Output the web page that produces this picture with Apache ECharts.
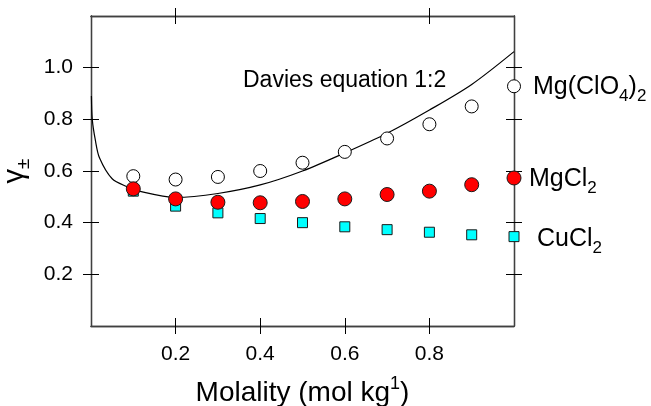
<!DOCTYPE html>
<html>
<head>
<meta charset="utf-8">
<script src="https://cdn.jsdelivr.net/npm/echarts@6/dist/echarts.min.js"></script>
<style>
	html, body { margin: 0; padding: 0; background: #fff; }
	#chart { width: 651px; height: 406px; }
</style>
</head>
<body>
<div id="chart"></div>
<script>
// molality values (mol/kg) for the measured points
var molality = [0.1, 0.2, 0.3, 0.4, 0.5, 0.6, 0.7, 0.8, 0.9, 1.0];

// mean activity coefficients
var mgClO4 = [0.580, 0.567, 0.577, 0.600, 0.632, 0.674, 0.726, 0.781, 0.850, 0.928];
var mgCl2 = [0.531, 0.492, 0.479, 0.477, 0.482, 0.492, 0.509, 0.522, 0.547, 0.573];
var cuCl2 = [0.522, 0.464, 0.438, 0.416, 0.400, 0.384, 0.373, 0.363, 0.353, 0.346];

// Davies equation 1:2 curve
var daviesM = [0.001, 0.003, 0.01, 0.02, 0.05, 0.09, 0.1, 0.2, 0.3, 0.4, 0.5, 0.6, 0.7, 0.8, 0.9, 1.0];
var daviesG = [0.890, 0.800, 0.722, 0.651, 0.570, 0.535, 0.527, 0.498, 0.513, 0.546, 0.600, 0.670, 0.746, 0.836, 0.935, 1.062];

var xTicks = [0.2, 0.4, 0.6, 0.8];
var xTopTicks = [0.2, 0.8];
var yTicks = [0.2, 0.4, 0.6, 0.8, 1.0];

var FONT = "Liberation Sans";
var voChart = null;

function pairs(xs, ys) {
	return xs.map(function(x, i){ return [x, ys[i]]; });
}

function fmt1(v) {
	return v.toFixed(1);
}

/**
 * x axis, ticks either outside or inside
 */
function makeX(gridIndex, position, ticks, inside, withLabel) {
	return {
		type: 'value', gridIndex: gridIndex, position: position,
		min: 0, max: 1, interval: 0.2,
		splitLine: { show: false },
		axisLine: { show: true, onZero: false, lineStyle: { color: '#404040', width: 1.3 } },
		axisTick: { show: true, inside: inside, length: 8, customValues: ticks,
			lineStyle: { color: '#000', width: 1 } },
		axisLabel: { show: withLabel, customValues: ticks, formatter: fmt1, margin: 18,
			color: '#000', fontFamily: FONT, fontSize: 21 }
	};
}

function makeY(gridIndex, position, inside, withLabel) {
	return {
		type: 'value', gridIndex: gridIndex, position: position,
		min: 0, max: 1.2, interval: 0.2,
		splitLine: { show: false },
		axisLine: { show: true, onZero: false, lineStyle: { color: '#404040', width: 1.3 } },
		axisTick: { show: true, inside: inside, length: 8, customValues: yTicks,
			lineStyle: { color: '#000', width: 1 } },
		axisLabel: { show: withLabel, customValues: yTicks, formatter: fmt1, margin: 18,
			color: '#000', fontFamily: FONT, fontSize: 21 }
	};
}

function drawChart() {
	voChart = echarts.init(document.getElementById('chart'), null, { renderer: 'canvas' });

	var gridBox = { left: 91, top: 16, right: 137, bottom: 80, containLabel: false, outerBoundsMode: 'none' };

	var xBottom = makeX(0, 'bottom', xTicks, false, true);
	xBottom.name = '{t|Molality (mol kg}{s|1}{t|)}';
	xBottom.nameLocation = 'middle';
	xBottom.nameGap = 49;
	xBottom.nameTextStyle = {
		rich: {
			t: { fontFamily: FONT, fontSize: 28, color: '#000', lineHeight: 32, verticalAlign: 'bottom' },
			s: { fontFamily: FONT, fontSize: 18, color: '#000', lineHeight: 32, verticalAlign: 'top' }
		}
	};

	var yLeft = makeY(0, 'left', false, true);
	yLeft.name = '{g|γ}{s|±}';
	yLeft.nameLocation = 'middle';
	yLeft.nameRotate = 90;
	yLeft.nameGap = 52;
	yLeft.nameTextStyle = {
		rich: {
			g: { fontFamily: FONT, fontSize: 29, color: '#000', lineHeight: 32, verticalAlign: 'top' },
			s: { fontFamily: FONT, fontSize: 19, color: '#000', lineHeight: 32, verticalAlign: 'bottom' }
		}
	};

	var subRich = {
		a: { fontFamily: FONT, fontSize: 25, fill: '#000', lineHeight: 30, verticalAlign: 'top' },
		s: { fontFamily: FONT, fontSize: 17, fill: '#000', lineHeight: 30, verticalAlign: 'bottom' }
	};

	var voOption = {
		animation: false,
		backgroundColor: '#fff',
		grid: [gridBox, gridBox],
		xAxis: [
			xBottom,
			makeX(0, 'top', xTopTicks, false, false),
			makeX(1, 'bottom', xTicks, true, false),
			makeX(1, 'top', xTopTicks, true, false)
		],
		yAxis: [
			yLeft,
			makeY(0, 'right', false, false),
			makeY(1, 'left', true, false),
			makeY(1, 'right', true, false)
		],
		graphic: [
			{ type: 'text', left: 243, top: 69, silent: true,
				style: { text: 'Davies equation 1:2', fontFamily: FONT, fontSize: 23, fill: '#000' } },
			{ type: 'text', left: 533, top: 75, silent: true,
				style: { text: '{a|Mg(ClO}{s|4}{a|)}{s|2}', rich: subRich } },
			{ type: 'text', left: 529, top: 167, silent: true,
				style: { text: '{a|MgCl}{s|2}', rich: subRich } },
			{ type: 'text', left: 537, top: 227, silent: true,
				style: { text: '{a|CuCl}{s|2}', rich: subRich } }
		],
		series: [
			{
				name: 'Davies', type: 'line', xAxisIndex: 0, yAxisIndex: 0,
				data: pairs(daviesM, daviesG), smooth: 0.3, showSymbol: false, symbol: 'none',
				lineStyle: { color: '#000', width: 1.2 }, z: 2
			},
			{
				name: 'CuCl2', type: 'scatter', xAxisIndex: 0, yAxisIndex: 0,
				data: pairs(molality, cuCl2), symbol: 'rect', symbolSize: 10,
				itemStyle: { color: '#00ffff', borderColor: '#1a1a1a', borderWidth: 1, opacity: 1 }, z: 3
			},
			{
				name: 'Mg(ClO4)2', type: 'scatter', xAxisIndex: 0, yAxisIndex: 0,
				data: pairs(molality, mgClO4), symbol: 'circle', symbolSize: 13,
				itemStyle: { color: '#fff', borderColor: '#000', borderWidth: 1, opacity: 1 }, z: 3
			},
			{
				name: 'MgCl2', type: 'scatter', xAxisIndex: 0, yAxisIndex: 0,
				data: pairs(molality, mgCl2), symbol: 'circle', symbolSize: 14,
				itemStyle: { color: '#ff0000', borderColor: '#1a1a1a', borderWidth: 1, opacity: 1 }, z: 4
			}
		]
	};

	voChart.setOption(voOption);
}

drawChart();

window.addEventListener('resize', function() {
	if (voChart) {
		voChart.resize();
	}
});
</script>
</body>
</html>
